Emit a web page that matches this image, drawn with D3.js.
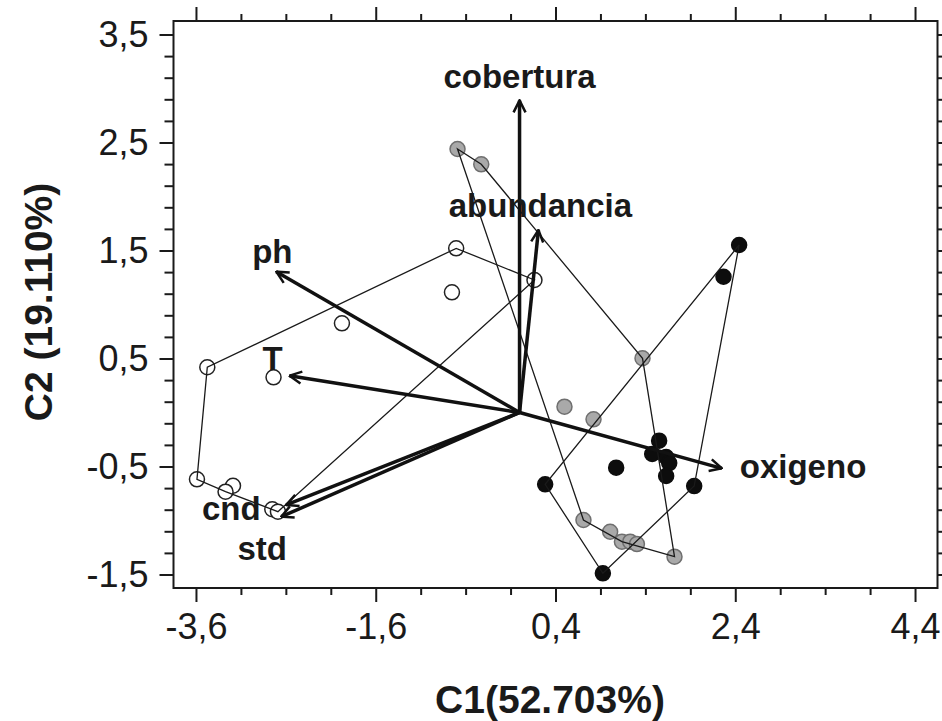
<!DOCTYPE html>
<html lang="es">
<head>
    <meta charset="UTF-8">
    <title>Biplot C1 / C2</title>
    <style>
        body {
            background-color: #ffffff;
            margin: 0;
            overflow: hidden;
            font-family: Arial, "Liberation Sans", sans-serif;
        }
        svg {
            display: block;
        }
        .tick text {
            font-family: Arial, "Liberation Sans", sans-serif;
            font-size: 36px;
            fill: #1a1a1a;
        }
        .tick line {
            stroke: #1a1a1a;
            stroke-width: 2;
        }
        .axis-title {
            font-family: Arial, "Liberation Sans", sans-serif;
            font-weight: bold;
            font-size: 39px;
            fill: #1a1a1a;
        }
        .var-label {
            font-family: Arial, "Liberation Sans", sans-serif;
            font-weight: bold;
            font-size: 33px;
            fill: #1a1a1a;
        }
    </style>
</head>
<body>
    <svg id="biplot"></svg>

    <script src="https://d3js.org/d3.v7.min.js"></script>
    <script>
        // tick labels
        const xMajorTicks = [-3.6, -1.6, 0.4, 2.4, 4.4];
        const yMajorTicks = [-1.5, -0.5, 0.5, 1.5, 2.5, 3.5];

        // sample scores (C1, C2) for the three groups
        const openC1  = [-0.705, 0.166, -0.752, -1.976, -3.474, -2.737, -3.589, -3.188, -3.271, -2.751, -2.688];
        const openC2  = [1.52, 1.227, 1.113, 0.826, 0.419, 0.326, -0.619, -0.678, -0.733, -0.896, -0.918];
        const grayC1  = [-0.69, -0.426, 1.368, 0.50, 0.823, 0.711, 1.008, 1.139, 1.231, 1.306, 1.724];
        const grayC2  = [2.44, 2.298, 0.502, 0.054, -0.063, -0.995, -1.104, -1.196, -1.196, -1.218, -1.335];
        const blackC1 = [2.443, 2.269, 1.553, 1.476, 1.631, 1.665, 1.631, 1.075, 0.285, 1.943, 0.927];
        const blackC2 = [1.551, 1.257, -0.261, -0.384, -0.412, -0.468, -0.588, -0.511, -0.665, -0.681, -1.489];

        // environmental variables (arrow tips)
        const variables = ["cobertura", "abundancia", "ph", "T", "cnd", "std", "oxigeno"];
        const loadC1 = [0, 0.21, -2.706, -2.559, -2.596, -2.651, 2.25];
        const loadC2 = [2.89, 1.69, 1.304, 0.341, -0.856, -0.965, -0.517];

        // label placement relative to arrow tip (px)
        const labelPos = {
            cobertura:  { dx: 0,   dy: -12, anchor: "middle" },
            abundancia: { dx: 2,   dy: -13, anchor: "middle" },
            ph:         { dx: -4,  dy: -9,  anchor: "middle" },
            T:          { dx: -17, dy: -6,  anchor: "middle" },
            cnd:        { dx: -55, dy: 15,  anchor: "middle" },
            std:        { dx: -19, dy: 43,  anchor: "middle" },
            oxigeno:    { dx: 18,  dy: 10,  anchor: "start" }
        };

        const W = 942, H = 721;
        const margin = { top: 21, right: 4.5, bottom: 133, left: 173.5 };
        const width = W - margin.left - margin.right,
              height = H - margin.top - margin.bottom;

        const svg = d3.select("#biplot")
            .attr("width", W)
            .attr("height", H);

        const g = svg.append("g")
            .attr("transform", `translate(${margin.left},${margin.top})`);

        const x = d3.scaleLinear().domain([-3.85, 4.65]).range([0, width]);
        const y = d3.scaleLinear().domain([-1.625, 3.625]).range([height, 0]);

        const loc = d3.formatLocale({ decimal: ",", thousands: ".", grouping: [3], currency: ["", ""], minus: "-" });
        const fmt = loc.format(".1f");

        const xMinor = d3.range(-3.6, 4.41, 0.5).filter(v => !xMajorTicks.some(m => Math.abs(m - v) < 1e-6));
        const yMinor = d3.range(-1.5, 3.51, 0.2).filter(v => !yMajorTicks.some(m => Math.abs(m - v) < 1e-6));

        function addAxis(axisFn, scale, ticks, size, labelled, transform) {
            const a = g.append("g")
                .attr("transform", transform)
                .call(axisFn(scale).tickValues(ticks).tickSize(size).tickPadding(11)
                    .tickFormat(labelled ? fmt : ""));
            a.select(".domain").remove();
            return a;
        }

        // ticks on all four sides, labels bottom and left
        addAxis(d3.axisBottom, x, xMajorTicks, 14, true, `translate(0,${height})`);
        addAxis(d3.axisBottom, x, xMinor, 7, false, `translate(0,${height})`);
        addAxis(d3.axisTop, x, xMajorTicks, 14, false, "translate(0,0)");
        addAxis(d3.axisTop, x, xMinor, 7, false, "translate(0,0)");
        addAxis(d3.axisLeft, y, yMajorTicks, 14, true, "translate(0,0)");
        addAxis(d3.axisLeft, y, yMinor, 9, false, "translate(0,0)");
        addAxis(d3.axisRight, y, yMajorTicks, 14, false, `translate(${width},0)`);
        addAxis(d3.axisRight, y, yMinor, 9, false, `translate(${width},0)`);

        // frame
        g.append("rect")
            .attr("width", width)
            .attr("height", height)
            .attr("fill", "none")
            .attr("stroke", "#1a1a1a")
            .attr("stroke-width", 2);

        const groups = [
            { pts: d3.zip(openC1, openC2),   fill: "#ffffff", stroke: "#222" },
            { pts: d3.zip(grayC1, grayC2),   fill: "#a9a9a9", stroke: "#6f6f6f" },
            { pts: d3.zip(blackC1, blackC2), fill: "#0d0d0d", stroke: "#0d0d0d" }
        ];

        // points
        groups.forEach(grp => {
            g.append("g").selectAll("circle")
                .data(grp.pts)
                .join("circle")
                .attr("cx", d => x(d[0]))
                .attr("cy", d => y(d[1]))
                .attr("r", 7.5)
                .attr("fill", grp.fill)
                .attr("stroke", grp.stroke)
                .attr("stroke-width", 1.5);
        });

        // convex hulls
        groups.forEach(grp => {
            const hull = d3.polygonHull(grp.pts.map(d => [x(d[0]), y(d[1])]));
            g.append("path")
                .attr("d", "M" + hull.join("L") + "Z")
                .attr("fill", "none")
                .attr("stroke", "#1a1a1a")
                .attr("stroke-width", 1.3);
        });

        // arrow heads
        svg.append("defs").append("marker")
            .attr("id", "head")
            .attr("viewBox", "0 0 16 16")
            .attr("refX", 15)
            .attr("refY", 8)
            .attr("markerWidth", 16)
            .attr("markerHeight", 16)
            .attr("markerUnits", "userSpaceOnUse")
            .attr("orient", "auto")
            .append("path")
            .attr("d", "M3,2 L15,8 L3,14")
            .attr("fill", "none")
            .attr("stroke", "#111")
            .attr("stroke-width", 2.5);

        const vecs = variables.map((v, i) => ({ name: v, c1: loadC1[i], c2: loadC2[i] }));

        g.append("g").selectAll("line")
            .data(vecs)
            .join("line")
            .attr("x1", x(0))
            .attr("y1", y(0))
            .attr("x2", d => x(d.c1))
            .attr("y2", d => y(d.c2))
            .attr("stroke", "#111")
            .attr("stroke-width", 3.5)
            .attr("marker-end", "url(#head)");

        g.append("g").selectAll("text")
            .data(vecs)
            .join("text")
            .attr("class", "var-label")
            .attr("x", d => x(d.c1) + labelPos[d.name].dx)
            .attr("y", d => y(d.c2) + labelPos[d.name].dy)
            .attr("text-anchor", d => labelPos[d.name].anchor)
            .text(d => d.name);

        // axis titles
        svg.append("text")
            .attr("class", "axis-title")
            .attr("x", 550)
            .attr("y", 713)
            .attr("text-anchor", "middle")
            .text("C1(52.703%)");

        svg.append("text")
            .attr("class", "axis-title")
            .attr("transform", "translate(52,302) rotate(-90)")
            .attr("text-anchor", "middle")
            .text("C2 (19.110%)");
    </script>
</body>
</html>
